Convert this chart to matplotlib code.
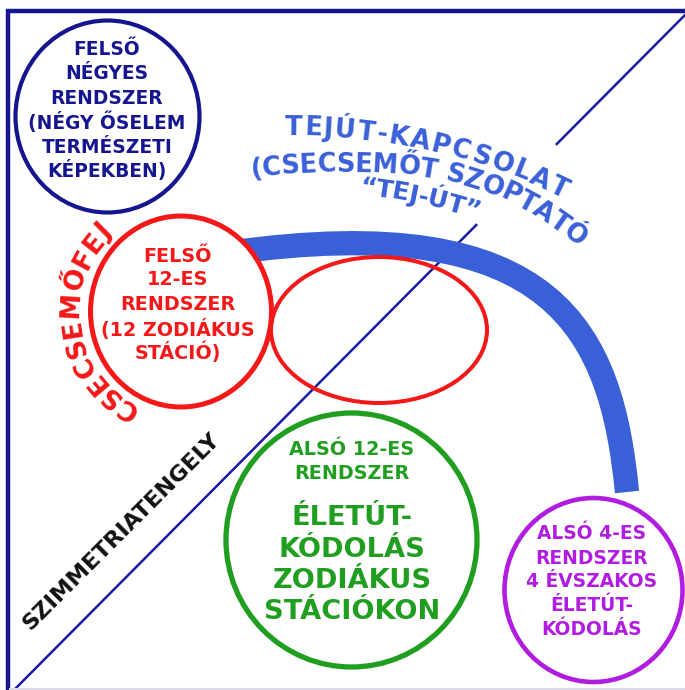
import numpy as np
import matplotlib
matplotlib.use("Agg")
import matplotlib.pyplot as plt
from matplotlib.patches import Ellipse, PathPatch
from matplotlib.path import Path
from matplotlib.textpath import TextToPath
from matplotlib.font_manager import FontProperties

# ---------------- content ----------------
navy_lines = ["FELSŐ", "NÉGYES", "RENDSZER", "(NÉGY ŐSELEM", "TERMÉSZETI", "KÉPEKBEN)"]
red_lines = ["FELSŐ", "12-ES", "RENDSZER", "(12 ZODIÁKUS", "STÁCIÓ)"]
green_small = ["ALSÓ 12-ES", "RENDSZER"]
green_big = ["ÉLETÚT-", "KÓDOLÁS", "ZODIÁKUS", "STÁCIÓKON"]
purple_lines = ["ALSÓ 4-ES", "RENDSZER", "4 ÉVSZAKOS", "ÉLETÚT-", "KÓDOLÁS"]
arc_lines = ["TEJÚT-KAPCSOLAT", "(CSECSEMŐT SZOPTATÓ", "“TEJ-ÚT”"]
side_label = "CSECSEMŐFEJ"
axis_label = "SZIMMETRIATENGELY"

# ---------------- style ----------------
NAVY = "#15158f"
RED = "#f41818"
BLUE = "#3a60d8"
GREEN = "#1f9e1f"
PURPLE = "#b01ce0"
BLACK = "#111111"
FONT = "DejaVu Sans"
PX = 100 / 72.0

W, H = 685, 690
fig = plt.figure(figsize=(W / 100, H / 100), dpi=100)
ax = fig.add_axes([0, 0, 1, 1])
ax.set_xlim(0, W)
ax.set_ylim(H, 0)
ax.axis("off")

ttp = TextToPath()


def adv(ch, fp):
    w1 = ttp.get_text_width_height_descent("H" + ch + "H", fp, ismath=False)[0]
    w0 = ttp.get_text_width_height_descent("HH", fp, ismath=False)[0]
    return w1 - w0


def block(lines, cx, centers, size, color):
    cap = 0.729 * size * PX
    for s, cy in zip(lines, centers):
        ax.text(cx, cy + cap / 2, s, ha="center", va="baseline", fontsize=size,
                fontweight="bold", family=FONT, color=color, zorder=6)


def bez(ctrl, n=500):
    P = np.array(ctrl, float)
    t = np.linspace(0, 1, n)[:, None]
    if len(P) == 3:
        return (1 - t) ** 2 * P[0] + 2 * (1 - t) * t * P[1] + t ** 2 * P[2]
    return ((1 - t) ** 3 * P[0] + 3 * (1 - t) ** 2 * t * P[1]
            + 3 * (1 - t) * t ** 2 * P[2] + t ** 3 * P[3])


def text_on_curve(text, pts, size, color):
    seg = np.diff(pts, axis=0)
    s = np.concatenate([[0], np.cumsum(np.hypot(seg[:, 0], seg[:, 1]))])
    L = s[-1]
    fp = FontProperties(family=FONT, weight="bold", size=size)
    a = np.array([adv(c, fp) for c in text])
    c = np.cumsum(a) - a / 2
    si = (c - c[0]) / (c[-1] - c[0]) * L
    cap = 0.729 * size * PX
    for ch, sv in zip(text, si):
        if ch == " ":
            continue
        x = np.interp(sv, s, pts[:, 0])
        y = np.interp(sv, s, pts[:, 1])
        x0 = np.interp(max(sv - 3, 0), s, pts[:, 0]); y0 = np.interp(max(sv - 3, 0), s, pts[:, 1])
        x1 = np.interp(min(sv + 3, L), s, pts[:, 0]); y1 = np.interp(min(sv + 3, L), s, pts[:, 1])
        dx, dy = x1 - x0, y1 - y0
        n = np.hypot(dx, dy)
        dx, dy = dx / n, dy / n
        ang = np.degrees(np.arctan2(-dy, dx))
        bx = x - dy * cap / 2
        by = y + dx * cap / 2
        ax.text(bx, by, ch, rotation=ang, rotation_mode="anchor", ha="center",
                va="baseline", fontsize=size, fontweight="bold", family=FONT,
                color=color, zorder=6)


# ---------------- frame ----------------
ax.plot([8.3, 8.3], [8.5, 690], color=NAVY, lw=3.2, solid_capstyle="butt", zorder=3)
ax.plot([6, 685], [10.5, 10.5], color=NAVY, lw=3.2, solid_capstyle="butt", zorder=3)
ax.plot([10, 685], [689, 689], color="#dcdce8", lw=1.5, zorder=3)

# ---------------- symmetry axis (with gap behind the text) ----------------
def xline(y):
    return 14 + (690 - np.asarray(y, float)) * (672 / 676.0)

for ya, yb in [(12, 144), (225, 690)]:
    ax.plot(xline([ya, yb]), [ya, yb], color="#1a1aa6", lw=1.8, zorder=1)

# ---------------- blue band ----------------
band = Path([(228, 253), (559, 206), (611.5, 335), (627, 492)],
            [Path.MOVETO, Path.CURVE4, Path.CURVE4, Path.CURVE4])
ax.add_patch(PathPatch(band, fill=False, edgecolor=BLUE, lw=17.5, capstyle="butt", zorder=2))

# ---------------- circles ----------------
ax.add_patch(Ellipse((107.5, 116.5), 184, 192, fill=True, facecolor="white", edgecolor=NAVY, lw=3.0, zorder=4))
ax.add_patch(Ellipse((181, 311.5), 181, 191, fill=True, facecolor="white", edgecolor=RED, lw=3.6, zorder=4))
ax.add_patch(Ellipse((379, 330), 216, 146, fill=False, edgecolor=RED, lw=2.9, zorder=4))
ax.add_patch(Ellipse((351.5, 540), 251, 254, fill=False, edgecolor=GREEN, lw=3.8, zorder=4))
ax.add_patch(Ellipse((593.5, 590), 178, 184, fill=False, edgecolor=PURPLE, lw=3.3, zorder=4))

# ---------------- texts in circles ----------------
block(navy_lines, 107, [48, 72, 97, 122, 146, 170], 13.4, NAVY)
block(red_lines, 178, [255, 278, 303, 329, 352], 13.8, RED)
block(green_small, 352, [448, 472], 13.8, GREEN)
block(green_big, 352, [515, 547, 578, 609], 19.6, GREEN)
block(purple_lines, 592, [532, 557, 580, 604, 628], 13.4, PURPLE)

# ---------------- curved blue texts ----------------
text_on_curve(arc_lines[0], bez([(294, 126), (437, 127), (560, 186)]), 18.5, BLUE)
text_on_curve(arc_lines[1], bez([(256, 167), (400, 154), (490, 165), (576, 233)]), 18.5, BLUE)
text_on_curve(arc_lines[2], bez([(368, 186), (420, 192), (472, 208)]), 18.0, BLUE)

# ---------------- curved red label ----------------
ang = np.radians(np.linspace(119, 226, 400))
arc_pts = np.column_stack([181 + 112 * np.cos(ang), 311.5 + 112 * np.sin(ang)])
text_on_curve(side_label, arc_pts, 19.0, RED)

# ---------------- axis label ----------------
ax.text(121, 531.5, axis_label, rotation=45, rotation_mode="anchor", ha="center",
        va="center", fontsize=16.2, fontweight="bold", family=FONT, color=BLACK, zorder=6)

fig.savefig("out.png", dpi=100, facecolor="white")
